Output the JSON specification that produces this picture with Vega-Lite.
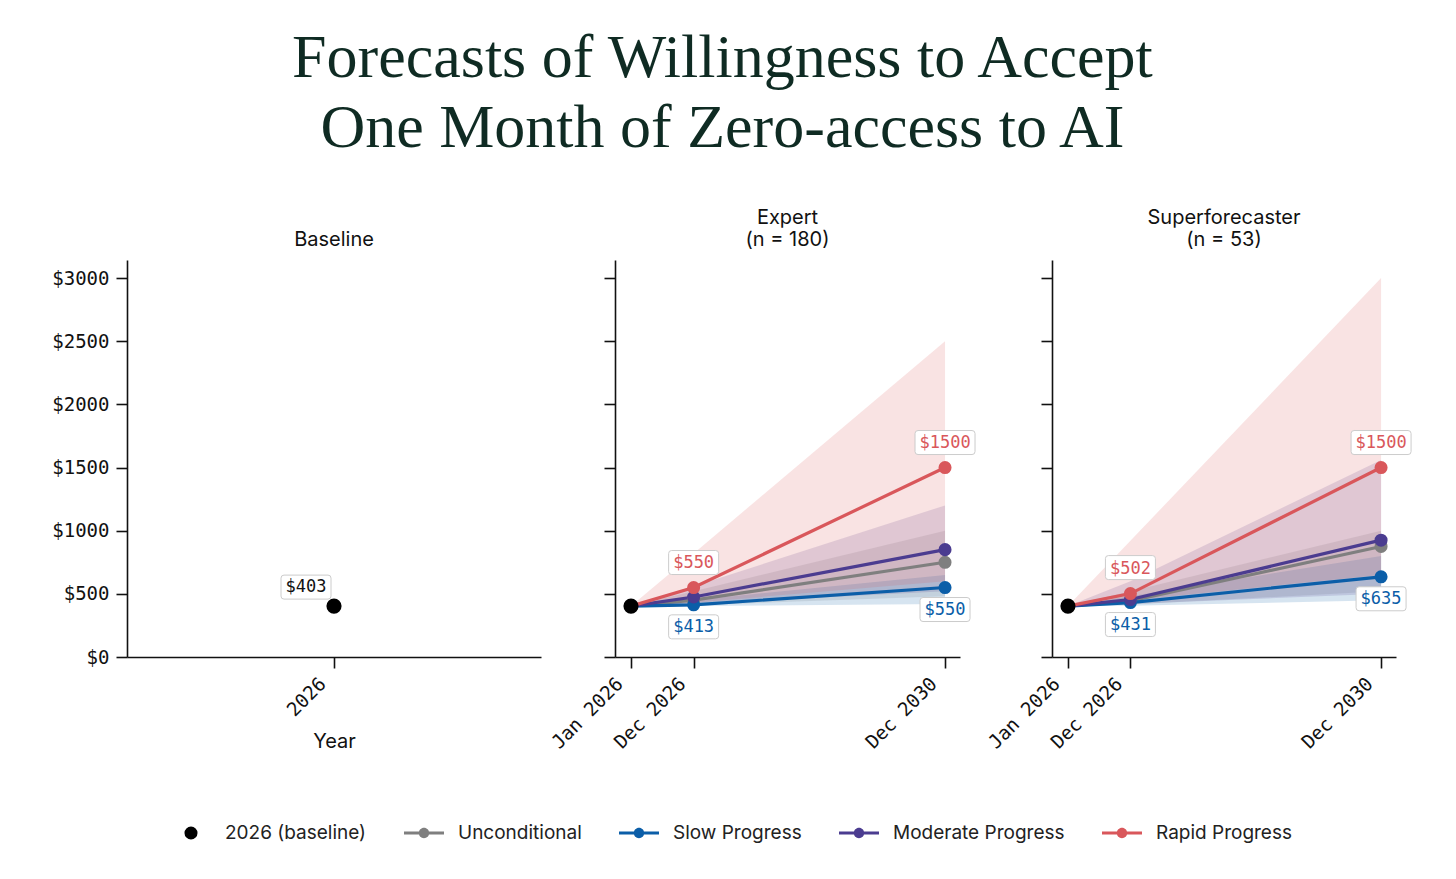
{
  "$schema": "https://vega.github.io/schema/vega-lite/v6.json",
  "padding": {"left": 51, "top": 27, "right": 30, "bottom": 25},
  "background": "white",
  "title": {
    "text": ["Forecasts of Willingness to Accept", "One Month of Zero-access to AI"],
    "font": "Liberation Serif",
    "fontSize": 62,
    "lineHeight": 70,
    "fontWeight": "normal",
    "color": "#0f2b23",
    "anchor": "middle",
    "offset": 48,
    "dx": -10
  },
  "datasets": {
    "d": [
      {"panel": "Baseline", "series": "2026 (baseline)", "date": "2026-01-01T00:00:00", "value": 403, "lo": 403, "hi": 403},

      {"panel": "Expert", "series": "2026 (baseline)", "date": "2026-01-01T00:00:00", "value": 403, "lo": 403, "hi": 403},
      {"panel": "Expert", "series": "Unconditional", "date": "2026-01-01T00:00:00", "value": 403, "lo": 403, "hi": 403},
      {"panel": "Expert", "series": "Unconditional", "date": "2026-12-31T00:00:00", "value": 450, "lo": 410, "hi": 520},
      {"panel": "Expert", "series": "Unconditional", "date": "2030-12-31T00:00:00", "value": 750, "lo": 480, "hi": 1000},
      {"panel": "Expert", "series": "Slow Progress", "date": "2026-01-01T00:00:00", "value": 403, "lo": 403, "hi": 403},
      {"panel": "Expert", "series": "Slow Progress", "date": "2026-12-31T00:00:00", "value": 413, "lo": 403, "hi": 450},
      {"panel": "Expert", "series": "Slow Progress", "date": "2030-12-31T00:00:00", "value": 550, "lo": 420, "hi": 650},
      {"panel": "Expert", "series": "Moderate Progress", "date": "2026-01-01T00:00:00", "value": 403, "lo": 403, "hi": 403},
      {"panel": "Expert", "series": "Moderate Progress", "date": "2026-12-31T00:00:00", "value": 475, "lo": 420, "hi": 560},
      {"panel": "Expert", "series": "Moderate Progress", "date": "2030-12-31T00:00:00", "value": 850, "lo": 520, "hi": 1200},
      {"panel": "Expert", "series": "Rapid Progress", "date": "2026-01-01T00:00:00", "value": 403, "lo": 403, "hi": 403},
      {"panel": "Expert", "series": "Rapid Progress", "date": "2026-12-31T00:00:00", "value": 550, "lo": 430, "hi": 820},
      {"panel": "Expert", "series": "Rapid Progress", "date": "2030-12-31T00:00:00", "value": 1500, "lo": 600, "hi": 2500},

      {"panel": "Superforecaster", "series": "2026 (baseline)", "date": "2026-01-01T00:00:00", "value": 403, "lo": 403, "hi": 403},
      {"panel": "Superforecaster", "series": "Unconditional", "date": "2026-01-01T00:00:00", "value": 403, "lo": 403, "hi": 403},
      {"panel": "Superforecaster", "series": "Unconditional", "date": "2026-12-31T00:00:00", "value": 445, "lo": 415, "hi": 520},
      {"panel": "Superforecaster", "series": "Unconditional", "date": "2030-12-31T00:00:00", "value": 875, "lo": 520, "hi": 1000},
      {"panel": "Superforecaster", "series": "Slow Progress", "date": "2026-01-01T00:00:00", "value": 403, "lo": 403, "hi": 403},
      {"panel": "Superforecaster", "series": "Slow Progress", "date": "2026-12-31T00:00:00", "value": 431, "lo": 405, "hi": 480},
      {"panel": "Superforecaster", "series": "Slow Progress", "date": "2030-12-31T00:00:00", "value": 635, "lo": 450, "hi": 800},
      {"panel": "Superforecaster", "series": "Moderate Progress", "date": "2026-01-01T00:00:00", "value": 403, "lo": 403, "hi": 403},
      {"panel": "Superforecaster", "series": "Moderate Progress", "date": "2026-12-31T00:00:00", "value": 455, "lo": 420, "hi": 600},
      {"panel": "Superforecaster", "series": "Moderate Progress", "date": "2030-12-31T00:00:00", "value": 925, "lo": 500, "hi": 1560},
      {"panel": "Superforecaster", "series": "Rapid Progress", "date": "2026-01-01T00:00:00", "value": 403, "lo": 403, "hi": 403},
      {"panel": "Superforecaster", "series": "Rapid Progress", "date": "2026-12-31T00:00:00", "value": 502, "lo": 450, "hi": 920},
      {"panel": "Superforecaster", "series": "Rapid Progress", "date": "2030-12-31T00:00:00", "value": 1500, "lo": 650, "hi": 3000}
    ]
  },
  "data": {"name": "d"},
  "hconcat": [
    {
      "width": 414,
      "height": 397,
      "title": {"text": "Baseline"},
      "transform": [{"filter": "datum.panel === 'Baseline'"}],
      "encoding": {
        "x": {"field": "date", "type": "temporal",
          "scale": {"domain": [{"year": 2025, "month": 1, "date": 1}, {"year": 2027, "month": 1, "date": 1}]},
          "axis": {"values": [{"year": 2026, "month": 1, "date": 1}], "format": "%Y", "title": "Year", "titlePadding": 12}},
        "y": {"field": "value", "type": "quantitative",
          "scale": {"domain": [0, 3143], "nice": false},
          "axis": {"values": [0, 500, 1000, 1500, 2000, 2500, 3000], "format": "$d", "title": null}}
      },
      "layer": [
        {"mark": {"type": "point", "filled": true, "opacity": 1, "size": 230},
         "encoding": {"color": {"field": "series", "type": "nominal",
           "scale": {"domain": ["2026 (baseline)", "Unconditional", "Slow Progress", "Moderate Progress", "Rapid Progress"], "range": ["#000000", "#7f7f7f", "#0b5ea8", "#4b3c90", "#d9575b"]}}}},
        {"mark": {"type": "point", "filled": true, "opacity": 1, "fill": "white", "stroke": "#cccccc", "strokeWidth": 1, "size": 2500, "xOffset": -28, "yOffset": -19,
          "shape": "M -0.88 -0.48 L 0.88 -0.48 Q 1 -0.48 1 -0.36 L 1 0.36 Q 1 0.48 0.88 0.48 L -0.88 0.48 Q -1 0.48 -1 0.36 L -1 -0.36 Q -1 -0.48 -0.88 -0.48 Z"}},
        {"mark": {"type": "text", "font": "DejaVu Sans Mono", "fontSize": 17, "xOffset": -28, "yOffset": -19, "baseline": "middle", "color": "#111111"},
         "encoding": {"text": {"field": "value", "type": "quantitative", "format": "$d"}}}
      ]
    },
    {
      "width": 345,
      "height": 397,
      "title": {"text": ["Expert", "(n = 180)"]},
      "transform": [{"filter": "datum.panel === 'Expert'"}],
      "encoding": {
        "x": {"field": "date", "type": "temporal",
          "scale": {"domain": [{"year": 2025, "month": 9, "date": 30}, {"year": 2031, "month": 3, "date": 28}]},
          "axis": {"values": [{"year": 2026, "month": 1, "date": 1}, {"year": 2026, "month": 12, "date": 31}, {"year": 2030, "month": 12, "date": 31}], "format": "%b %Y", "title": null}},
        "y": {"field": "value", "type": "quantitative",
          "scale": {"domain": [0, 3143], "nice": false},
          "axis": {"values": [0, 500, 1000, 1500, 2000, 2500, 3000], "labels": false, "title": null}}
      },
      "layer": [
        {"transform": [{"filter": "datum.series !== '2026 (baseline)'"}],
         "mark": {"type": "area", "fillOpacity": 0.17},
         "encoding": {"y": {"field": "lo", "type": "quantitative"}, "y2": {"field": "hi"},
           "color": {"field": "series", "type": "nominal"}}},
        {"transform": [{"filter": "datum.series !== '2026 (baseline)'"}],
         "mark": {"type": "line", "strokeWidth": 3.2},
         "encoding": {"color": {"field": "series", "type": "nominal"}}},
        {"transform": [{"filter": "datum.series !== '2026 (baseline)' && datum.value !== 403"}],
         "mark": {"type": "point", "filled": true, "opacity": 1, "size": 170},
         "encoding": {"color": {"field": "series", "type": "nominal",
           "legend": {"title": null, "orient": "bottom", "direction": "horizontal", "offset": 60,
             "labelFont": "Inter", "labelFontSize": 19, "labelColor": "#222222", "labelOffset": 14, "labelLimit": 400, "columnPadding": 37,
             "symbolOpacity": 1, "symbolStrokeWidth": 0,
             "encode": {"symbols": {"update": {
               "shape": {"signal": "datum.value === '2026 (baseline)' ? 'circle' : 'M -1 -0.075 L 1 -0.075 L 1 0.075 L -1 0.075 Z M 0.26 0 A 0.26 0.26 0 1 1 -0.26 0 A 0.26 0.26 0 1 1 0.26 0 Z'"},
               "size": {"signal": "datum.value === '2026 (baseline)' ? 170 : 1600"},
               "fill": {"scale": "color", "field": "value"},
               "stroke": {"value": "transparent"},
               "opacity": {"value": 1},
               "fillOpacity": {"value": 1}}}}}}}},
        {"transform": [{"filter": "datum.series === '2026 (baseline)'"}],
         "mark": {"type": "point", "filled": true, "opacity": 1, "size": 230},
         "encoding": {"color": {"field": "series", "type": "nominal"}}},
        {"transform": [{"filter": "datum.series === 'Rapid Progress' && datum.value !== 403 && datum.value < 1000"}],
         "mark": {"type": "point", "filled": true, "opacity": 1, "fill": "white", "stroke": "#cccccc", "strokeWidth": 1, "size": 2500, "yOffset": -25,
          "shape": "M -0.88 -0.48 L 0.88 -0.48 Q 1 -0.48 1 -0.36 L 1 0.36 Q 1 0.48 0.88 0.48 L -0.88 0.48 Q -1 0.48 -1 0.36 L -1 -0.36 Q -1 -0.48 -0.88 -0.48 Z"}},
        {"transform": [{"filter": "datum.series === 'Rapid Progress' && datum.value >= 1000"}],
         "mark": {"type": "point", "filled": true, "opacity": 1, "fill": "white", "stroke": "#cccccc", "strokeWidth": 1, "size": 3600, "yOffset": -25,
          "shape": "M -0.9 -0.4 L 0.9 -0.4 Q 1 -0.4 1 -0.3 L 1 0.3 Q 1 0.4 0.9 0.4 L -0.9 0.4 Q -1 0.4 -1 0.3 L -1 -0.3 Q -1 -0.4 -0.9 -0.4 Z"}},
        {"transform": [{"filter": "datum.series === 'Slow Progress' && datum.value !== 403"}],
         "mark": {"type": "point", "filled": true, "opacity": 1, "fill": "white", "stroke": "#cccccc", "strokeWidth": 1, "size": 2500, "yOffset": 22,
          "shape": "M -0.88 -0.48 L 0.88 -0.48 Q 1 -0.48 1 -0.36 L 1 0.36 Q 1 0.48 0.88 0.48 L -0.88 0.48 Q -1 0.48 -1 0.36 L -1 -0.36 Q -1 -0.48 -0.88 -0.48 Z"}},
        {"transform": [{"filter": "datum.series === 'Rapid Progress' && datum.value !== 403"}],
         "mark": {"type": "text", "font": "DejaVu Sans Mono", "fontSize": 17, "yOffset": -25, "baseline": "middle"},
         "encoding": {"text": {"field": "value", "type": "quantitative", "format": "$d"},
           "color": {"field": "series", "type": "nominal"}}},
        {"transform": [{"filter": "datum.series === 'Slow Progress' && datum.value !== 403"}],
         "mark": {"type": "text", "font": "DejaVu Sans Mono", "fontSize": 17, "yOffset": 22, "baseline": "middle"},
         "encoding": {"text": {"field": "value", "type": "quantitative", "format": "$d"},
           "color": {"field": "series", "type": "nominal"}}}
      ]
    },
    {
      "width": 344,
      "height": 397,
      "title": {"text": ["Superforecaster", "(n = 53)"]},
      "transform": [{"filter": "datum.panel === 'Superforecaster'"}],
      "encoding": {
        "x": {"field": "date", "type": "temporal",
          "scale": {"domain": [{"year": 2025, "month": 9, "date": 30}, {"year": 2031, "month": 3, "date": 28}]},
          "axis": {"values": [{"year": 2026, "month": 1, "date": 1}, {"year": 2026, "month": 12, "date": 31}, {"year": 2030, "month": 12, "date": 31}], "format": "%b %Y", "title": null}},
        "y": {"field": "value", "type": "quantitative",
          "scale": {"domain": [0, 3143], "nice": false},
          "axis": {"values": [0, 500, 1000, 1500, 2000, 2500, 3000], "labels": false, "title": ".", "titleColor": "rgba(255,255,255,0)", "titleFontSize": 10, "titlePadding": 28}}
      },
      "layer": [
        {"transform": [{"filter": "datum.series !== '2026 (baseline)'"}],
         "mark": {"type": "area", "fillOpacity": 0.17},
         "encoding": {"y": {"field": "lo", "type": "quantitative"}, "y2": {"field": "hi"},
           "color": {"field": "series", "type": "nominal"}}},
        {"transform": [{"filter": "datum.series !== '2026 (baseline)'"}],
         "mark": {"type": "line", "strokeWidth": 3.2},
         "encoding": {"color": {"field": "series", "type": "nominal"}}},
        {"transform": [{"filter": "datum.series !== '2026 (baseline)' && datum.value !== 403"}],
         "mark": {"type": "point", "filled": true, "opacity": 1, "size": 170},
         "encoding": {"color": {"field": "series", "type": "nominal"}}},
        {"transform": [{"filter": "datum.series === '2026 (baseline)'"}],
         "mark": {"type": "point", "filled": true, "opacity": 1, "size": 230},
         "encoding": {"color": {"field": "series", "type": "nominal"}}},
        {"transform": [{"filter": "datum.series === 'Rapid Progress' && datum.value !== 403 && datum.value < 1000"}],
         "mark": {"type": "point", "filled": true, "opacity": 1, "fill": "white", "stroke": "#cccccc", "strokeWidth": 1, "size": 2500, "yOffset": -26,
          "shape": "M -0.88 -0.48 L 0.88 -0.48 Q 1 -0.48 1 -0.36 L 1 0.36 Q 1 0.48 0.88 0.48 L -0.88 0.48 Q -1 0.48 -1 0.36 L -1 -0.36 Q -1 -0.48 -0.88 -0.48 Z"}},
        {"transform": [{"filter": "datum.series === 'Rapid Progress' && datum.value >= 1000"}],
         "mark": {"type": "point", "filled": true, "opacity": 1, "fill": "white", "stroke": "#cccccc", "strokeWidth": 1, "size": 3600, "yOffset": -25,
          "shape": "M -0.9 -0.4 L 0.9 -0.4 Q 1 -0.4 1 -0.3 L 1 0.3 Q 1 0.4 0.9 0.4 L -0.9 0.4 Q -1 0.4 -1 0.3 L -1 -0.3 Q -1 -0.4 -0.9 -0.4 Z"}},
        {"transform": [{"filter": "datum.series === 'Slow Progress' && datum.value !== 403"}],
         "mark": {"type": "point", "filled": true, "opacity": 1, "fill": "white", "stroke": "#cccccc", "strokeWidth": 1, "size": 2500, "yOffset": 22,
          "shape": "M -0.88 -0.48 L 0.88 -0.48 Q 1 -0.48 1 -0.36 L 1 0.36 Q 1 0.48 0.88 0.48 L -0.88 0.48 Q -1 0.48 -1 0.36 L -1 -0.36 Q -1 -0.48 -0.88 -0.48 Z"}},
        {"transform": [{"filter": "datum.series === 'Rapid Progress' && datum.value !== 403"}],
         "mark": {"type": "text", "font": "DejaVu Sans Mono", "fontSize": 17, "yOffset": -25, "baseline": "middle"},
         "encoding": {"text": {"field": "value", "type": "quantitative", "format": "$d"},
           "color": {"field": "series", "type": "nominal"}}},
        {"transform": [{"filter": "datum.series === 'Slow Progress' && datum.value !== 403"}],
         "mark": {"type": "text", "font": "DejaVu Sans Mono", "fontSize": 17, "yOffset": 22, "baseline": "middle"},
         "encoding": {"text": {"field": "value", "type": "quantitative", "format": "$d"},
           "color": {"field": "series", "type": "nominal"}}}
      ]
    }
  ],
  "spacing": 7,
  "resolve": {"scale": {"color": "shared"}, "legend": {"color": "shared"}},
  "config": {
    "view": {"stroke": null},
    "axis": {"grid": false, "domainColor": "#111111", "domainWidth": 1.6, "tickColor": "#111111", "tickWidth": 1.6, "tickSize": 11,
      "labelFont": "DejaVu Sans Mono", "labelFontSize": 19, "labelColor": "#111111", "labelPadding": 7,
      "titleFont": "Inter", "titleFontWeight": "normal", "titleFontSize": 20, "titleColor": "#111111"},
    "axisX": {"labelAngle": -45, "labelAlign": "right", "labelBaseline": "top", "labelOffset": -18, "labelPadding": 6, "labelOverlap": false, "labelFlush": false},
    "title": {"font": "Inter", "fontSize": 20, "fontWeight": "normal", "color": "#111111", "offset": 10},
    "legend": {"layout": {"bottom": {"anchor": "middle"}}}
  }
}
